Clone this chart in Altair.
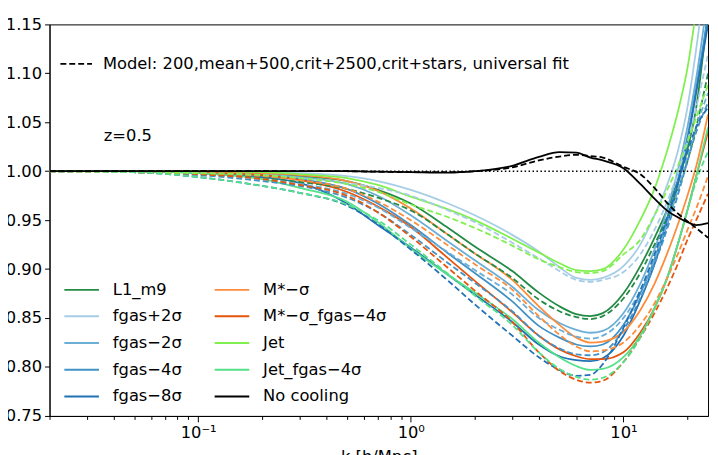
import altair as alt
import pandas as pd

k_values = [0.02, 0.05, 0.1, 0.2, 0.3, 0.5, 0.7, 1.0, 1.5, 2.0, 3.0, 4.0, 5.0, 6.0,
            7.0, 8.0, 10.0, 12.0, 14.0, 16.0, 18.0, 20.0, 22.0, 25.0]

series_names = ["L1_m9", "fgas+2σ", "fgas−2σ", "fgas−4σ", "fgas−8σ",
                "M*−σ", "M*−σ_fgas−4σ", "Jet", "Jet_fgas−4σ", "No cooling"]
series_colors = ["#238b45", "#a6cde6", "#6baed6", "#4292c6", "#2171b5",
                 "#fd8d3c", "#e6550d", "#80f050", "#55e08a", "#000000"]

l1_sim = [1.000, 1.000, 0.999, 0.998, 0.995, 0.990, 0.981, 0.967, 0.942, 0.923, 0.898, 0.876,
          0.862, 0.854, 0.852, 0.855, 0.875, 0.903, 0.932, 0.960, 0.990, 1.022, 1.065, 1.165]
l1_mod = [1.000, 0.999, 0.997, 0.993, 0.989, 0.982, 0.973, 0.960, 0.935, 0.916, 0.891, 0.869,
          0.857, 0.851, 0.849, 0.852, 0.870, 0.896, 0.925, 0.952, 0.980, 1.010, 1.045, 1.100]
p2_sim = [1.000, 1.000, 1.000, 0.999, 0.998, 0.995, 0.990, 0.981, 0.967, 0.955, 0.935, 0.918,
          0.902, 0.891, 0.889, 0.891, 0.903, 0.925, 0.955, 0.985, 1.020, 1.065, 1.125, 1.220]
p2_mod = [1.000, 0.999, 0.998, 0.996, 0.993, 0.988, 0.983, 0.975, 0.960, 0.948, 0.927, 0.911,
          0.898, 0.889, 0.887, 0.889, 0.897, 0.915, 0.940, 0.968, 0.998, 1.030, 1.065, 1.120]
m2_sim = [1.000, 1.000, 0.999, 0.997, 0.994, 0.987, 0.975, 0.955, 0.928, 0.909, 0.882, 0.858,
          0.845, 0.838, 0.835, 0.837, 0.855, 0.885, 0.920, 0.960, 1.000, 1.045, 1.095, 1.180]
m2_mod = [1.000, 0.999, 0.997, 0.992, 0.987, 0.977, 0.963, 0.942, 0.917, 0.899, 0.874, 0.850,
          0.838, 0.831, 0.829, 0.832, 0.850, 0.878, 0.910, 0.945, 0.980, 1.015, 1.045, 1.080]
m4_sim = [1.000, 1.000, 0.999, 0.996, 0.992, 0.982, 0.967, 0.945, 0.916, 0.896, 0.867, 0.842,
          0.830, 0.823, 0.821, 0.823, 0.843, 0.875, 0.910, 0.950, 0.990, 1.035, 1.085, 1.160]
m4_mod = [1.000, 0.999, 0.996, 0.990, 0.985, 0.973, 0.958, 0.935, 0.906, 0.886, 0.857, 0.832,
          0.819, 0.813, 0.812, 0.815, 0.838, 0.870, 0.905, 0.940, 0.975, 1.010, 1.040, 1.070]
m8_sim = [1.000, 1.000, 0.998, 0.994, 0.988, 0.967, 0.945, 0.922, 0.894, 0.874, 0.846, 0.823,
          0.811, 0.807, 0.806, 0.809, 0.832, 0.868, 0.905, 0.945, 0.985, 1.030, 1.080, 1.150]
m8_mod = [1.000, 0.999, 0.994, 0.985, 0.978, 0.965, 0.946, 0.920, 0.888, 0.864, 0.832, 0.810,
          0.797, 0.791, 0.792, 0.803, 0.840, 0.878, 0.915, 0.952, 0.988, 1.020, 1.045, 1.065]
ms_sim = [1.000, 1.000, 0.999, 0.998, 0.996, 0.990, 0.980, 0.962, 0.935, 0.916, 0.889, 0.862,
          0.843, 0.830, 0.825, 0.826, 0.836, 0.858, 0.885, 0.915, 0.945, 0.975, 1.005, 1.058]
ms_mod = [1.000, 0.999, 0.998, 0.995, 0.991, 0.982, 0.969, 0.950, 0.924, 0.905, 0.879, 0.852,
          0.833, 0.821, 0.816, 0.817, 0.825, 0.843, 0.865, 0.890, 0.915, 0.940, 0.962, 0.995]
msf_sim = [1.000, 1.000, 0.999, 0.996, 0.991, 0.979, 0.964, 0.943, 0.911, 0.888, 0.856, 0.832,
           0.818, 0.811, 0.808, 0.808, 0.815, 0.835, 0.860, 0.890, 0.925, 0.960, 0.995, 1.040]
msf_mod = [1.000, 0.999, 0.997, 0.992, 0.986, 0.975, 0.958, 0.933, 0.901, 0.878, 0.846, 0.815,
           0.796, 0.787, 0.784, 0.786, 0.805, 0.830, 0.855, 0.880, 0.905, 0.930, 0.950, 0.977]
jet_sim = [1.000, 1.000, 1.000, 0.999, 0.997, 0.993, 0.986, 0.974, 0.961, 0.950, 0.931, 0.917,
           0.906, 0.899, 0.898, 0.900, 0.920, 0.950, 0.982, 1.020, 1.060, 1.105, 1.165, 1.260]
jet_mod = [1.000, 0.999, 0.998, 0.996, 0.993, 0.987, 0.979, 0.966, 0.953, 0.942, 0.924, 0.910,
           0.902, 0.897, 0.896, 0.898, 0.915, 0.930, 0.955, 0.980, 1.005, 1.030, 1.055, 1.088]
jf_sim = [1.000, 1.000, 0.998, 0.992, 0.983, 0.969, 0.948, 0.921, 0.894, 0.876, 0.849, 0.825,
          0.810, 0.801, 0.797, 0.798, 0.810, 0.832, 0.860, 0.890, 0.925, 0.960, 0.995, 1.045]
jf_mod = [1.000, 0.999, 0.994, 0.985, 0.978, 0.966, 0.950, 0.925, 0.895, 0.873, 0.843, 0.815,
          0.798, 0.790, 0.787, 0.789, 0.805, 0.830, 0.860, 0.890, 0.925, 0.960, 0.990, 1.020]
nc_sim = [1.000, 1.000, 1.000, 1.000, 1.000, 1.000, 0.9995, 0.999, 0.9985, 1.000, 1.0055, 1.0146,
          1.0195, 1.019, 1.014, 1.011, 1.003, 0.987, 0.972, 0.960, 0.953, 0.948, 0.945, 0.947]
nc_mod = [1.000, 1.000, 1.000, 1.000, 1.000, 1.000, 0.9995, 0.999, 0.999, 1.000, 1.004, 1.011,
          1.015, 1.0167, 1.0155, 1.014, 1.0045, 0.997, 0.983, 0.968, 0.957, 0.949, 0.942, 0.932]

sim_lists = [l1_sim, p2_sim, m2_sim, m4_sim, m8_sim, ms_sim, msf_sim, jet_sim, jf_sim, nc_sim]
mod_lists = [l1_mod, p2_mod, m2_mod, m4_mod, m8_mod, ms_mod, msf_mod, jet_mod, jf_mod, nc_mod]

model_label = "Model: 200,mean+500,crit+2500,crit+stars, universal fit"
reference_level = [1.0]
annot_text = ["z=0.5"]
annot_k = [0.036]
annot_v = [1.036]

x_ticks = [0.02, 0.03, 0.04, 0.05, 0.06, 0.07, 0.08, 0.09, 0.1, 0.2, 0.3, 0.4, 0.5, 0.6,
           0.7, 0.8, 0.9, 1.0, 2.0, 3.0, 4.0, 5.0, 6.0, 7.0, 8.0, 9.0, 10.0, 20.0]
y_ticks = [0.75, 0.80, 0.85, 0.90, 0.95, 1.00, 1.05, 1.10, 1.15]

rows_sim, rows_mod = [], []
for name, s, m in zip(series_names, sim_lists, mod_lists):
    for i, kv in enumerate(k_values):
        rows_sim.append({"k": kv, "v": s[i], "series": name, "order": i})
        rows_mod.append({"k": kv, "v": m[i], "series": name, "order": i, "model": model_label})
df_sim = pd.DataFrame(rows_sim)
df_mod = pd.DataFrame(rows_mod)

FONT = "DejaVu Sans"
FS = 16.5

major_test = "indexof([0.1, 1, 10], datum.value) >= 0"
x_enc = alt.X("k:Q",
              scale=alt.Scale(type="log", domain=[0.02, 25], nice=False),
              axis=alt.Axis(values=x_ticks, title="k [h/Mpc]", grid=False,
                            labelExpr="datum.value == 0.1 ? '10⁻¹' : datum.value == 1 ? '10⁰' : datum.value == 10 ? '10¹' : ''",
                            labelOverlap=False, labelFlush=False,
                            tickSize={"condition": {"test": major_test, "value": 6}, "value": 3.5},
                            labelPadding=3, titlePadding=8))
y_enc = alt.Y("v:Q",
              scale=alt.Scale(domain=[0.75, 1.15], nice=False, zero=False),
              axis=alt.Axis(values=y_ticks, format=".2f", title=None, grid=False,
                            tickSize=5, labelPadding=3, labelFlush=False, labelOverlap=False))

color_scale = alt.Scale(domain=series_names, range=series_colors)
color_legend = alt.Legend(orient="none", legendX=14, legendY=255, columns=2, title=None,
                          symbolType="stroke", symbolSize=1225, symbolStrokeWidth=2,
                          labelOffset=13, labelFont=FONT, labelFontSize=FS, labelColor="black",
                          rowPadding=0, clipHeight=26.5, columnPadding=32, padding=0,
                          labelLimit=300)
color_enc = alt.Color("series:N", scale=color_scale, legend=color_legend)

dash_enc = alt.StrokeDash("model:N",
                          scale=alt.Scale(domain=[model_label], range=[[6, 3]]),
                          legend=alt.Legend(orient="none", legendX=10, legendY=23, title=None,
                                            symbolType="stroke", symbolSize=1024,
                                            symbolStrokeColor="black", symbolStrokeWidth=1.8,
                                            labelOffset=10, labelFont=FONT, labelFontSize=FS,
                                            labelColor="black", padding=0, labelLimit=600))

colored = alt.datum.series != "No cooling"
black = alt.datum.series == "No cooling"

sim_col = alt.Chart(df_sim).transform_filter(colored).mark_line(
    clip=True, strokeWidth=1.8, interpolate="monotone").encode(
    x=x_enc, y=y_enc, color=color_enc, order="order:Q")
mod_col = alt.Chart(df_mod).transform_filter(colored).mark_line(
    clip=True, strokeWidth=1.8, interpolate="monotone").encode(
    x=x_enc, y=y_enc, color=color_enc, strokeDash=dash_enc, order="order:Q")
mod_blk = alt.Chart(df_mod).transform_filter(black).mark_line(
    clip=True, strokeWidth=1.8, interpolate="monotone").encode(
    x=x_enc, y=y_enc, color=color_enc, strokeDash=dash_enc, order="order:Q")
sim_blk = alt.Chart(df_sim).transform_filter(black).mark_line(
    clip=True, strokeWidth=1.8, interpolate="monotone").encode(
    x=x_enc, y=y_enc, color=color_enc, order="order:Q")

ref = alt.Chart(pd.DataFrame({"v": reference_level})).mark_rule(
    color="black", strokeWidth=1.5, strokeDash=[1.5, 2.5]).encode(y=y_enc)

annot = alt.Chart(pd.DataFrame({"k": annot_k, "v": annot_v, "t": annot_text})).mark_text(
    align="left", baseline="middle", font=FONT, fontSize=FS, color="black").encode(
    x=x_enc, y=y_enc, text="t:N")

chart = alt.layer(sim_col, mod_col, mod_blk, sim_blk, ref, annot).properties(
    width=666, height=396,
    padding={"left": 42, "top": 14, "right": 2, "bottom": 45},
    autosize=alt.AutoSizeParams(type="none"),
    background="white",
).configure_view(stroke="black", strokeWidth=1).configure_axis(
    labelFont=FONT, labelFontSize=FS, labelColor="black",
    titleFont=FONT, titleFontSize=FS, titleColor="black", titleFontWeight="normal",
    domainColor="black", tickColor="black", domainWidth=1, tickWidth=1,
)

chart.save("out.html", embed_options={"renderer": "svg", "actions": False})
